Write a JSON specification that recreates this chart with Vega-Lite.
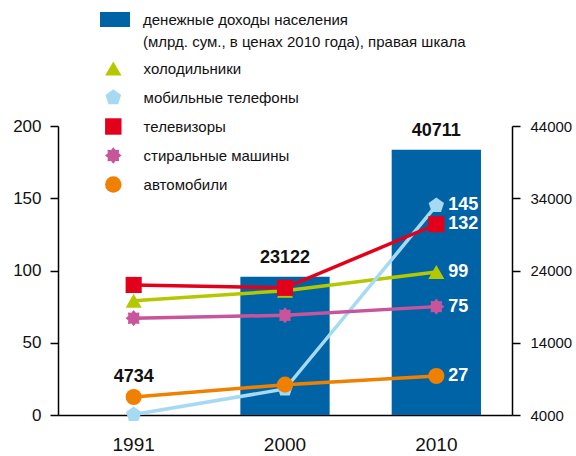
{
  "$schema": "https://vega.github.io/schema/vega-lite/v6.json",
  "width": 454,
  "height": 289,
  "autosize": {"type": "none"},
  "padding": {"left": 58, "top": 126, "right": 64, "bottom": 41},
  "config": {"font": "Liberation Sans", "view": {"stroke": null}, "axis": {"grid": false}},
  "datasets": {
    "income": [
      {"year": "1991", "income": 4734, "label": "денежные доходы населения"},
      {"year": "2000", "income": 23122, "label": "денежные доходы населения"},
      {"year": "2010", "income": 40711, "label": "денежные доходы населения"}
    ],
    "goods": [
      {"year": "1991", "series": "холодильники", "value": 79},
      {"year": "2000", "series": "холодильники", "value": 86},
      {"year": "2010", "series": "холодильники", "value": 99},
      {"year": "1991", "series": "мобильные телефоны", "value": 0.3},
      {"year": "2000", "series": "мобильные телефоны", "value": 18},
      {"year": "2010", "series": "мобильные телефоны", "value": 145},
      {"year": "1991", "series": "телевизоры", "value": 90},
      {"year": "2000", "series": "телевизоры", "value": 88},
      {"year": "2010", "series": "телевизоры", "value": 132},
      {"year": "1991", "series": "стиральные машины", "value": 67},
      {"year": "2000", "series": "стиральные машины", "value": 69},
      {"year": "2010", "series": "стиральные машины", "value": 75},
      {"year": "1991", "series": "автомобили", "value": 12.5},
      {"year": "2000", "series": "автомобили", "value": 21},
      {"year": "2010", "series": "автомобили", "value": 27}
    ]
  },
  "encoding": {
    "x": {
      "field": "year", "type": "nominal",
      "scale": {"paddingInner": 0.41, "paddingOuter": 0.205},
      "axis": {"title": null, "labelAngle": 0, "ticks": false, "labelFontSize": 19, "labelPadding": 20, "labelColor": "#111", "domainColor": "#000", "domainWidth": 1.5}
    }
  },
  "layer": [
    {
      "data": {"name": "income"},
      "encoding": {
        "y": {
          "field": "income", "type": "quantitative",
          "scale": {"domain": [4000, 44000], "zero": false, "nice": false},
          "axis": {"orient": "right", "title": null, "values": [4000, 14000, 24000, 34000, 44000], "format": "d", "labelFontSize": 15, "labelPadding": 10, "tickSize": 8, "tickColor": "#000", "domainColor": "#000", "domainWidth": 1.5, "tickWidth": 1.5, "labelColor": "#111"}
        }
      },
      "layer": [
        {
          "transform": [{"filter": "datum.year != '1991'"}],
          "mark": {"type": "bar"},
          "encoding": {
            "y2": {"datum": 4000},
            "fill": {
              "field": "label", "type": "nominal",
              "scale": {"domain": ["денежные доходы населения", "(млрд. сум., в ценах 2010 года), правая шкала"], "range": ["#0063A6", "rgba(0,0,0,0)"]},
              "legend": {"orient": "none", "legendX": 49.5, "legendY": -114, "title": null, "symbolType": "M-2,-1H2V1H-2Z", "symbolSize": 225, "symbolStrokeWidth": 0, "labelFontSize": 15, "labelOffset": 20.5, "rowPadding": 6, "labelLimit": 400, "padding": 0, "labelColor": "#111"}
            }
          }
        },
        {
          "transform": [{"filter": "datum.year == '1991'"}],
          "mark": {"type": "text", "fontWeight": "bold", "fontSize": 18, "dy": -33, "baseline": "middle", "color": "#111"},
          "encoding": {"text": {"field": "income", "type": "quantitative", "format": "d"}}
        },
        {
          "transform": [{"filter": "datum.year != '1991'"}],
          "mark": {"type": "text", "fontWeight": "bold", "fontSize": 18, "dy": -19, "baseline": "middle", "color": "#111"},
          "encoding": {"text": {"field": "income", "type": "quantitative", "format": "d"}}
        }
      ]
    },
    {
      "data": {"name": "goods"},
      "encoding": {
        "y": {
          "field": "value", "type": "quantitative",
          "scale": {"domain": [0, 200], "nice": false},
          "axis": {"orient": "left", "title": null, "values": [0, 50, 100, 150, 200], "labelFontSize": 17, "labelPadding": 9, "tickSize": 8, "tickColor": "#000", "domainColor": "#000", "domainWidth": 1.5, "tickWidth": 1.5, "labelColor": "#111"}
        },
        "color": {
          "field": "series", "type": "nominal",
          "scale": {"domain": ["холодильники", "мобильные телефоны", "телевизоры", "стиральные машины", "автомобили"], "range": ["#B4C800", "#A6D9F2", "#E2001A", "#C8559B", "#EF8000"]},
          "legend": {"orient": "none", "legendX": 46.8, "legendY": -66, "title": null, "symbolSize": 270, "labelFontSize": 15, "labelOffset": 21.8, "rowPadding": 12, "labelLimit": 400, "padding": 0, "labelColor": "#111", "symbolOpacity": 1, "symbolStrokeWidth": 0}
        }
      },
      "layer": [
        {
          "mark": {"type": "line", "strokeWidth": 3.5}
        },
        {
          "mark": {"type": "point", "filled": true, "opacity": 1, "size": 260},
          "encoding": {
            "shape": {
              "field": "series", "type": "nominal",
              "scale": {"domain": ["холодильники", "мобильные телефоны", "телевизоры", "стиральные машины", "автомобили"], "range": ["triangle-up", "M0,-1L0.951,-0.309L0.588,0.809L-0.588,0.809L-0.951,-0.309Z", "square", "M1,0L0.665,0.276L0.707,0.707L0.276,0.665L0,1L-0.276,0.665L-0.707,0.707L-0.665,0.276L-1,0L-0.665,-0.276L-0.707,-0.707L-0.276,-0.665L0,-1L0.276,-0.665L0.707,-0.707L0.665,-0.276Z", "circle"]},
              "legend": {"orient": "none", "legendX": 46.8, "legendY": -66, "title": null, "symbolSize": 270, "labelFontSize": 15, "labelOffset": 21.8, "rowPadding": 12, "labelLimit": 400, "padding": 0, "labelColor": "#111", "symbolOpacity": 1, "symbolStrokeWidth": 0}
            }
          }
        },
        {
          "transform": [{"filter": "datum.year == '2010'"}],
          "mark": {"type": "text", "fontWeight": "bold", "fontSize": 18, "dx": 12, "align": "left", "baseline": "middle"},
          "encoding": {"color": {"value": "#FFFFFF"}, "text": {"field": "value", "type": "quantitative", "format": "d"}}
        }
      ]
    }
  ],
  "resolve": {"scale": {"y": "independent"}}
}
